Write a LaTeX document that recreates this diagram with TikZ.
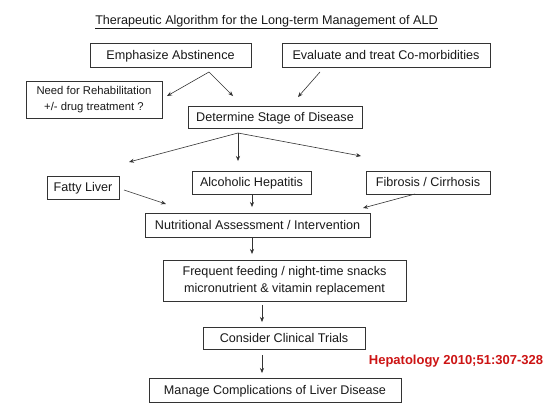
\documentclass[tikz,border=0pt]{standalone}
\usepackage{fontspec}
\setmainfont{Liberation Sans}
\usetikzlibrary{arrows.meta}
\definecolor{refred}{RGB}{205,20,20}
\begin{document}
\begin{tikzpicture}[x=1pt,y=-1pt,
 box/.style={draw=black!80, line width=0.9pt, inner sep=0pt, align=center, font=\fontsize{12.6}{16}\selectfont, text=black!90},
 onebox/.style={box, text height=9pt, text depth=0.5pt},
 smallbox/.style={box, font=\fontsize{11.3}{16}\selectfont},
 arr/.style={draw=black!80, line width=0.6pt, -{Stealth[length=5pt,width=4pt]}}]
\useasboundingbox[fill=white] (0,0) rectangle (553,413);
\node[font=\fontsize{12.6}{15}\selectfont, text=black!90] (title) at (266.5,22) {\underline{Therapeutic Algorithm for the Long-term Management of ALD}};
\node[onebox, minimum width=161pt, minimum height=24pt] (emph) at (170.5,55) {Emphasize Abstinence};
\node[onebox, minimum width=208pt, minimum height=24pt] (eval) at (386,55) {Evaluate and treat Co-morbidities};
\node[smallbox, minimum width=136pt, minimum height=37pt] (rehab) at (94,99.5) {Need for Rehabilitation\\+/- drug treatment ?};
\node[onebox, minimum width=174pt, minimum height=22pt] (stage) at (275,117) {Determine Stage of Disease};
\node[onebox, minimum width=72pt, minimum height=23pt] (fatty) at (83,187.5) {Fatty Liver};
\node[onebox, minimum width=119pt, minimum height=23pt] (alc) at (251.5,182.5) {Alcoholic Hepatitis};
\node[onebox, minimum width=124pt, minimum height=23pt] (fib) at (428,182.5) {Fibrosis / Cirrhosis};
\node[onebox, minimum width=225pt, minimum height=24pt] (nutr) at (257.5,225) {Nutritional Assessment / Intervention};
\node[box, minimum width=243pt, minimum height=41pt, font=\fontsize{12.6}{17}\selectfont] (freq) at (284.5,280.5) {Frequent feeding / night-time snacks\\micronutrient \& vitamin replacement};
\node[onebox, minimum width=162pt, minimum height=22pt] (trials) at (284,338) {Consider Clinical Trials};
\node[onebox, minimum width=252pt, minimum height=24pt] (manage) at (275,390) {Manage Complications of Liver Disease};
\node[font=\bfseries\fontsize{13}{15}\selectfont, text=refred] (ref) at (456,361) {Hepatology 2010;51:307-328};
% arrow end points
\coordinate (e1) at (209,72);
\coordinate (r1) at (167,96);
\coordinate (d1) at (233,96);
\coordinate (v1) at (320,72);
\coordinate (v2) at (298,97);
\coordinate (s0) at (238,133);
\coordinate (f1) at (129,162);
\coordinate (a1) at (238,161);
\coordinate (b1) at (361,156);
\coordinate (fl1) at (124,190);
\coordinate (n1) at (166,204);
\coordinate (ah1) at (252,194);
\coordinate (n2) at (252,207);
\coordinate (fb1) at (415,194);
\coordinate (n3) at (363,208);
\coordinate (n4) at (252,237);
\coordinate (q1) at (252,254);
\coordinate (q2) at (262,305);
\coordinate (t1) at (262,322);
\coordinate (t2) at (262,355);
\coordinate (m1) at (262,373);
\draw[arr] (e1) -- (r1);
\draw[arr] (e1) -- (d1);
\draw[arr] (v1) -- (v2);
\draw[arr] (s0) -- (f1);
\draw[arr] (s0) -- (a1);
\draw[arr] (s0) -- (b1);
\draw[arr] (fl1) -- (n1);
\draw[arr] (ah1) -- (n2);
\draw[arr] (fb1) -- (n3);
\draw[arr] (n4) -- (q1);
\draw[arr] (q2) -- (t1);
\draw[arr] (t2) -- (m1);
\end{tikzpicture}
\end{document}
